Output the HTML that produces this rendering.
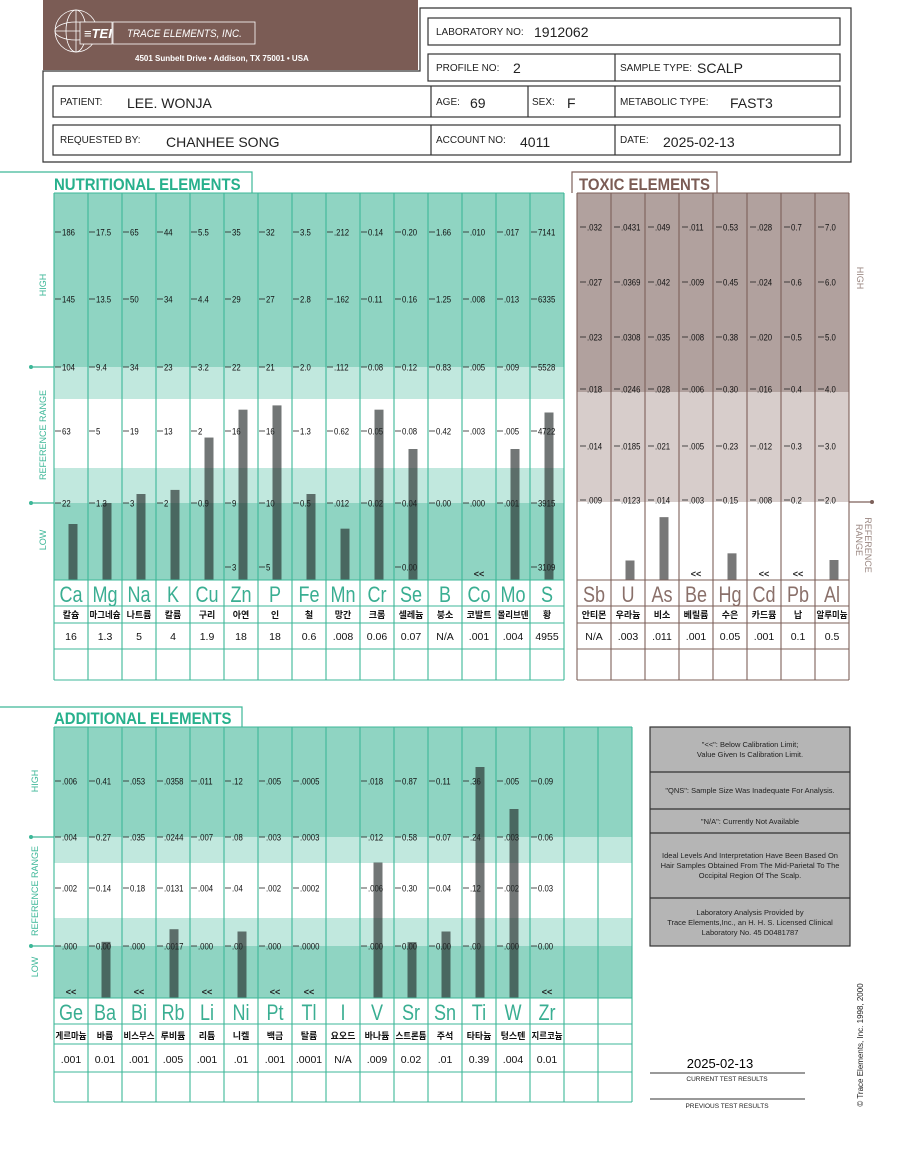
<!DOCTYPE html>
<html><head><meta charset="utf-8"><style>
html,body{margin:0;padding:0;background:#fff;width:900px;height:1172px;overflow:hidden}
svg{display:block}
text{font-family:"Liberation Sans","Noto Sans CJK KR",sans-serif}
</style></head><body>
<svg id="page" width="900" height="1172" viewBox="0 0 900 1172" xmlns="http://www.w3.org/2000/svg">
<g>
<rect x="43" y="0" width="375" height="70" fill="#7b5c55"/>
<g stroke="#fff" fill="none" stroke-width="0.8">
<circle cx="76" cy="31" r="21"/><ellipse cx="76" cy="31" rx="10" ry="21"/><ellipse cx="76" cy="31" rx="21" ry="9"/><line x1="55" y1="31" x2="97" y2="31"/><line x1="76" y1="10" x2="76" y2="52"/>
<rect x="80" y="22" width="32" height="22" fill="#7b5c55" stroke="#fff"/><rect x="113" y="22" width="142" height="22"/>
</g>
<text x="84" y="38" fill="#fff" font-size="13" font-style="italic" font-weight="bold">≡TEI</text>
<text x="127" y="37" fill="#fff" font-size="11" font-style="italic" transform="translate(127 0) scale(0.9 1) translate(-127 0)">TRACE ELEMENTS, INC.</text>
<text x="135" y="61" fill="#fff" font-size="8" font-weight="bold">4501 Sunbelt Drive  •  Addison, TX 75001  •  USA</text>
<path d="M43 71 H420 V8 H851 V162 H43 Z" fill="none" stroke="#333" stroke-width="1.2"/>
<g fill="#fff" stroke="#333" stroke-width="1.2">
<rect x="428" y="18" width="412" height="27"/>
<rect x="428" y="54" width="412" height="27"/><line x1="615" y1="54" x2="615" y2="81"/>
<rect x="53" y="86" width="787" height="31"/><line x1="431" y1="86" x2="431" y2="117"/><line x1="528" y1="86" x2="528" y2="117"/><line x1="615" y1="86" x2="615" y2="117"/>
<rect x="53" y="125" width="787" height="30"/><line x1="431" y1="125" x2="431" y2="155"/><line x1="615" y1="125" x2="615" y2="155"/>
</g>
<g font-size="10" fill="#222">
<text x="436" y="35">LABORATORY NO:</text><text x="534" y="37" font-size="14">1912062</text>
<text x="436" y="71">PROFILE NO:</text><text x="513" y="73" font-size="14">2</text>
<text x="620" y="71">SAMPLE TYPE:</text><text x="697" y="73" font-size="14">SCALP</text>
<text x="60" y="105">PATIENT:</text><text x="127" y="108" font-size="14">LEE. WONJA</text>
<text x="436" y="105">AGE:</text><text x="470" y="108" font-size="14">69</text>
<text x="532" y="105">SEX:</text><text x="567" y="108" font-size="14">F</text>
<text x="620" y="105">METABOLIC TYPE:</text><text x="730" y="108" font-size="14">FAST3</text>
<text x="60" y="143">REQUESTED BY:</text><text x="166" y="147" font-size="14">CHANHEE SONG</text>
<text x="436" y="143">ACCOUNT NO:</text><text x="520" y="147" font-size="14">4011</text>
<text x="620" y="143">DATE:</text><text x="663" y="147" font-size="14">2025-02-13</text>
</g>
</g>
<g>
<rect x="650" y="727" width="200" height="219" fill="#b5b5b5" stroke="#333" stroke-width="1.2"/>
<g stroke="#333" stroke-width="1.2"><line x1="650" y1="772" x2="850" y2="772"/><line x1="650" y1="809" x2="850" y2="809"/><line x1="650" y1="833" x2="850" y2="833"/><line x1="650" y1="898" x2="850" y2="898"/></g>
<g font-size="7.5" fill="#222" text-anchor="middle">
<text x="750" y="747">"&lt;&lt;": Below Calibration Limit;</text><text x="750" y="757">Value Given Is Calibration Limit.</text>
<text x="750" y="793">"QNS": Sample Size Was Inadequate For Analysis.</text>
<text x="750" y="824">"N/A": Currently Not Available</text>
<text x="750" y="858">Ideal Levels And Interpretation Have Been Based On</text><text x="750" y="868">Hair Samples Obtained From The Mid-Parietal To The</text><text x="750" y="878">Occipital Region Of The Scalp.</text>
<text x="750" y="915">Laboratory Analysis Provided by</text><text x="750" y="925">Trace Elements,Inc., an H. H. S. Licensed Clinical</text><text x="750" y="935">Laboratory No. 45 D0481787</text>
</g>
</g>
<g>
<text x="720" y="1068" font-size="13" text-anchor="middle">2025-02-13</text>
<line x1="650" y1="1073" x2="805" y2="1073" stroke="#333"/>
<text x="727" y="1081" font-size="6.5" text-anchor="middle" fill="#222">CURRENT  TEST  RESULTS</text>
<line x1="650" y1="1099" x2="805" y2="1099" stroke="#333"/>
<text x="727" y="1108" font-size="6.5" text-anchor="middle" fill="#222">PREVIOUS  TEST  RESULTS</text>
<text x="0" y="0" font-size="8" fill="#222" text-anchor="middle" transform="translate(863 1045) rotate(-90)">© Trace Elements, Inc. 1998, 2000</text>
</g>
<g id="charts"></g>
</svg>
<script>
// ---- Nutritional data ----
const nutriSymbols = ['Ca','Mg','Na','K','Cu','Zn','P','Fe','Mn','Cr','Se','B','Co','Mo','S'];
const nutriKorean = ['칼슘','마그네슘','나트륨','칼륨','구리','아연','인','철','망간','크롬','셀레늄','붕소','코발트','몰리브덴','황'];
const nutriResults = [16,1.3,5,4,1.9,18,18,0.6,0.008,0.06,0.07,null,0.001,0.004,4955];
const nutriResultLabels = ['16','1.3','5','4','1.9','18','18','0.6','.008','0.06','0.07','N/A','.001','.004','4955'];
const nutriBelow = [false,false,false,false,false,false,false,false,false,false,false,false,true,false,false];
const nutriTicks = [
 ['','22','63','104','145','186'],['','1.3','5','9.4','13.5','17.5'],['','3','19','34','50','65'],
 ['','2','13','23','34','44'],['','0.9','2','3.2','4.4','5.5'],['3','9','16','22','29','35'],
 ['5','10','16','21','27','32'],['','0.5','1.3','2.0','2.8','3.5'],['','.012','0.62','.112','.162','.212'],
 ['','0.02','0.05','0.08','0.11','0.14'],['0.00','0.04','0.08','0.12','0.16','0.20'],['','0.00','0.42','0.83','1.25','1.66'],
 ['','.000','.003','.005','.008','.010'],['','.001','.005','.009','.013','.017'],['3109','3915','4722','5528','6335','7141']];
const nutriTickValues = nutriTicks.map(r=>r.map(s=>s===''?null:parseFloat(s)));
nutriTickValues[8][2] = 0.062;
// ---- Toxic data ----
const toxSymbols = ['Sb','U','As','Be','Hg','Cd','Pb','Al'];
const toxKorean = ['안티몬','우라늄','비소','베릴륨','수은','카드뮴','납','알루미늄'];
const toxResults = [null,0.003,0.011,0.001,0.05,0.001,0.1,0.5];
const toxResultLabels = ['N/A','.003','.011','.001','0.05','.001','0.1','0.5'];
const toxBelow = [false,false,false,true,false,true,true,false];
const toxTicks = [
 ['.009','.014','.018','.023','.027','.032'],['.0123','.0185','.0246','.0308','.0369','.0431'],
 ['.014','.021','.028','.035','.042','.049'],['.003','.005','.006','.008','.009','.011'],
 ['0.15','0.23','0.30','0.38','0.45','0.53'],['.008','.012','.016','.020','.024','.028'],
 ['0.2','0.3','0.4','0.5','0.6','0.7'],['2.0','3.0','4.0','5.0','6.0','7.0']];
// ---- Additional data ----
const addSymbols = ['Ge','Ba','Bi','Rb','Li','Ni','Pt','Tl','I','V','Sr','Sn','Ti','W','Zr','',''];
const addKorean = ['게르마늄','바륨','비스무스','루비듐','리튬','니켈','백금','탈륨','요오드','바나듐','스트론튬','주석','타타늄','텅스텐','지르코늄','',''];
const addResults = [0.001,0.01,0.001,0.005,0.001,0.01,0.001,0.0001,null,0.009,0.02,0.01,0.39,0.004,0.01,null,null];
const addResultLabels = ['.001','0.01','.001','.005','.001','.01','.001','.0001','N/A','.009','0.02','.01','0.39','.004','0.01','',''];
const addBelow = [true,false,true,false,true,false,true,true,false,false,false,false,false,false,true,false,false];
const addTicks = [
 ['.000','.002','.004','.006'],['0.00','0.14','0.27','0.41'],['.000','0.18','.035','.053'],['.0017','.0131','.0244','.0358'],
 ['.000','.004','.007','.011'],['.00','.04','.08','.12'],['.000','.002','.003','.005'],['.0000','.0002','.0003','.0005'],
 [],['.000','.006','.012','.018'],['0.00','0.30','0.58','0.87'],['0.00','0.04','0.07','0.11'],
 ['.00','.12','.24','.36'],['.000','.002','.003','.005'],['0.00','0.03','0.06','0.09'],[],[]];
const addTickValues = addTicks.map(r=>r.map(s=>parseFloat(s)));
addTickValues[2][1] = 0.018;

const NS='http://www.w3.org/2000/svg';
const root=document.getElementById('charts');
function mk(tag,attrs,parent,txt){const e=document.createElementNS(NS,tag);for(const k in attrs)e.setAttribute(k,attrs[k]);if(txt!==undefined)e.textContent=txt;(parent||root).appendChild(e);return e;}
function yScale(vals,levels,baseY,v){
  const pts=[];
  if(vals.length===0) return baseY;
  const firstIdx=vals.findIndex(x=>x!==null);
  if(vals[firstIdx]>0) pts.push([0,baseY]);
  vals.forEach((x,i)=>{if(x!==null)pts.push([x,levels[i]]);});
  for(let i=0;i<pts.length-1;i++){
    if(v<=pts[i+1][0]||i===pts.length-2){
      const a=pts[i],b=pts[i+1];
      return a[1]+(v-a[0])/(b[0]-a[0])*(b[1]-a[1]);
    }
  }
  return baseY;
}
function chart(cfg){
  const g=mk('g',{});
  
  
  const W=cfg.n*34, x0=cfg.x0, right=x0+W;
  cfg.bands.forEach(b=>{const r=mk('rect',{x:x0,y:b[0],width:W,height:b[1]-b[0],fill:b[2]},g);
    
    });
  const t=mk('text',{x:cfg.titleX,y:cfg.top-3,'font-size':17,'font-weight':'bold',fill:cfg.titleColor,transform:`translate(${cfg.titleX} 0) scale(0.88 1) translate(${-cfg.titleX} 0)`},g,cfg.title);
  
  
  mk('path',{d:cfg.titlePath,fill:'none',stroke:cfg.line,'stroke-width':1.2},g);
  for(let i=0;i<cfg.n;i++){
    const cx=x0+i*34;
    cfg.ticks[i].forEach((lab,j)=>{ if(lab==='')return;
      const y=cfg.levels[j];
      mk('line',{x1:cx+cfg.dash[0],x2:cx+cfg.dash[1],y1:y,y2:y,stroke:'#222','stroke-width':0.8},g);
      const tl=mk('text',{x:cx+cfg.dash[1]+1,y:y+3.5,'font-size':9.5,fill:'#111',transform:`translate(${cx+cfg.dash[1]+1} 0) scale(0.82 1) translate(${-(cx+cfg.dash[1]+1)} 0)`},g,lab);
      
      
    });
    const v=cfg.results[i];
    if(v!==null && !cfg.below[i]){
      const y=yScale(cfg.tickVals[i],cfg.levels,cfg.base,v);
      const bar=mk('rect',{x:cx+cfg.barOff-4.5,y:y,width:9,height:cfg.base-y,fill:cfg.barColor},g);
      
      
    }
    if(cfg.below[i]){
      const m=mk('text',{x:cx+17,y:cfg.base-3,'font-size':9,'font-weight':'bold','text-anchor':'middle',fill:'#222'},g,'<<');
      
      
    }
    const s=mk('text',{x:cx+17,y:cfg.rows[1]-4,'font-size':22,'text-anchor':'middle',fill:cfg.symColor,transform:`translate(${cx+17} 0) scale(0.82 1) translate(${-(cx+17)} 0)`},g,cfg.symbols[i]);
    
    
    const k=mk('text',{x:cx+17,y:cfg.rows[2]-5,'font-size':9,'font-weight':'bold','text-anchor':'middle',fill:'#111'},g,cfg.korean[i]);
    if(cfg.korean[i].length>3){k.setAttribute('textLength','31');k.setAttribute('lengthAdjust','spacingAndGlyphs');}
    
    
    const r=mk('text',{x:cx+17,y:cfg.rows[3]-9,'font-size':10.5,'text-anchor':'middle',fill:'#111'},g,cfg.resultLabels[i]);
    
    
  }
  for(let i=0;i<=cfg.n;i++){const x=x0+i*34;mk('line',{x1:x,x2:x,y1:cfg.top,y2:cfg.rows[4],stroke:cfg.line,'stroke-width':1.1},g);}
  [cfg.top].concat(cfg.rows).forEach(y=>mk('line',{x1:x0,x2:right,y1:y,y2:y,stroke:cfg.line,'stroke-width':1.1},g));
}
const teal='#3db798';
chart({name:'nutritional-elements-chart',n:15,x0:54,top:193,base:580,rows:[580,606,623,649,680],
 levels:[567,503,431,367,299,232],bands:[[193,367,'#8fd4c2'],[367,399,'#c1e8de'],[399,468,'#ffffff'],[468,503,'#c1e8de'],[503,580,'#8fd4c2'],[580,680,'#ffffff']],
 symbols:nutriSymbols,korean:nutriKorean,results:nutriResults,resultLabels:nutriResultLabels,below:nutriBelow,ticks:nutriTicks,tickVals:nutriTickValues,
 dash:[1,7],barOff:19,barColor:'rgba(35,40,40,0.64)',line:teal,symColor:'#3aae92',title:'NUTRITIONAL ELEMENTS',titleX:54,titleColor:'#27b08c',titlePath:'M0 172 H252 V193'});
chart({name:'toxic-elements-chart',n:8,x0:577,top:193,base:580,rows:[580,606,623,649,680],
 levels:[500,446,389,337,282,227],bands:[[193,392,'#b1a19e'],[392,502,'#d7cdcb'],[502,680,'#ffffff']],
 symbols:toxSymbols,korean:toxKorean,results:toxResults,resultLabels:toxResultLabels,below:toxBelow,ticks:toxTicks,tickVals:toxTicks.map(r=>r.map(s=>parseFloat(s))),
 dash:[3,9],barOff:19,barColor:'#787878',line:'#7d605a',symColor:'#8a706a',title:'TOXIC ELEMENTS',titleX:579,titleColor:'#7b5c55',titlePath:'M572 193 V172 H717 V193'});
chart({name:'additional-elements-chart',n:17,x0:54,top:727,base:998,rows:[998,1024,1044,1072,1102],
 levels:[946,888,837,781],bands:[[727,837,'#8fd4c2'],[837,863,'#c1e8de'],[863,918,'#ffffff'],[918,946,'#c1e8de'],[946,998,'#8fd4c2'],[998,1102,'#ffffff']],
 symbols:addSymbols,korean:addKorean,results:addResults,resultLabels:addResultLabels,below:addBelow,ticks:addTicks,tickVals:addTickValues,
 dash:[1,7],barOff:18,barColor:'rgba(35,40,40,0.64)',line:teal,symColor:'#3aae92',title:'ADDITIONAL ELEMENTS',titleX:54,titleColor:'#27b08c',titlePath:'M0 707 H242 V727'});
function side(txt,x,y,color,name){const e=mk('text',{x:0,y:0,'font-size':9,fill:color,'text-anchor':'middle',transform:`translate(${x} ${y}) rotate(-90)`},root,txt);
 
 }
side('HIGH',46,285,teal,'high-axis-label');side('REFERENCE RANGE',46,435,teal,'reference-range-axis-label');side('LOW',46,540,teal,'low-axis-label');
side('HIGH',38,781,teal,'high-axis-label');side('REFERENCE RANGE',38,891,teal,'reference-range-axis-label');side('LOW',38,967,teal,'low-axis-label');
[[367],[503],[837],[946]].forEach(a=>{mk('line',{x1:31,x2:54,y1:a[0],y2:a[0],stroke:teal,'stroke-width':1.2});mk('circle',{cx:31,cy:a[0],r:2,fill:teal});});
mk('line',{x1:849,x2:872,y1:502,y2:502,stroke:'#7d605a','stroke-width':1.2});mk('circle',{cx:872,cy:502,r:2,fill:'#7d605a'});
const h=mk('text',{x:0,y:0,'font-size':9,fill:'#9a8782','text-anchor':'middle',transform:'translate(857 278) rotate(90)'},root,'HIGH');


const rr=mk('text',{x:0,y:0,'font-size':9,fill:'#9a8782','text-anchor':'middle',transform:'translate(865 545) rotate(90)'},root,'REFERENCE');


const rr2=mk('text',{x:0,y:0,'font-size':9,fill:'#9a8782','text-anchor':'middle',transform:'translate(856 540) rotate(90)'},root,'RANGE');


</script>
</body></html>
